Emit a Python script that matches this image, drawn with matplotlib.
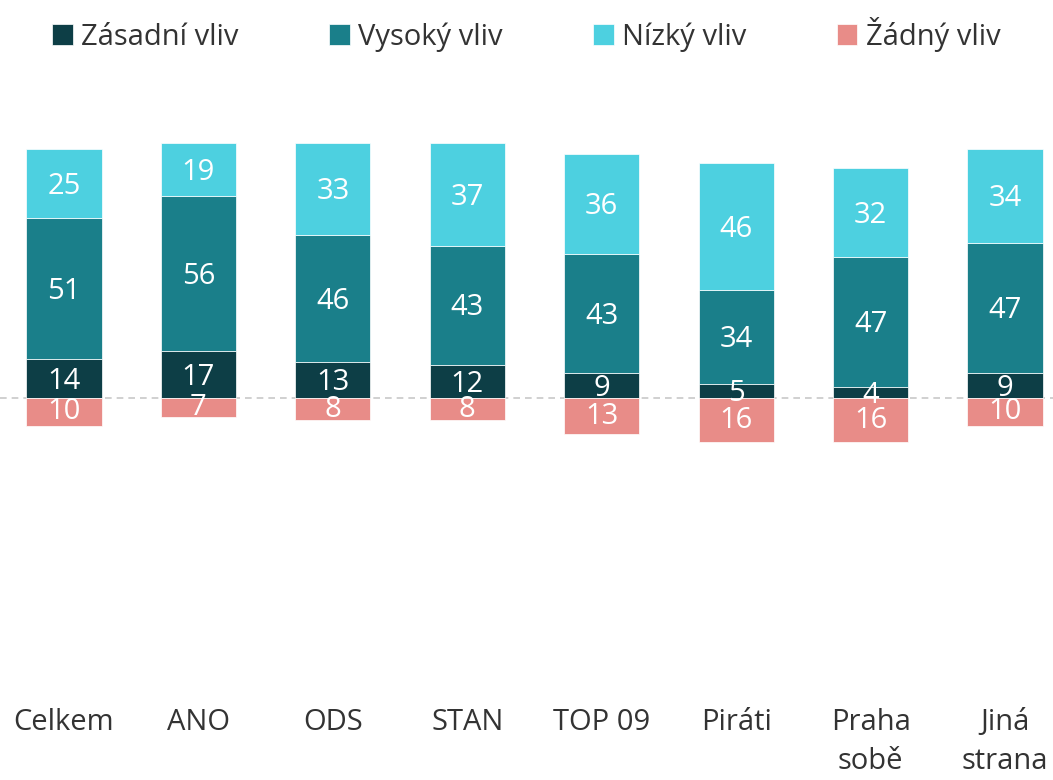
import matplotlib.pyplot as plt
import numpy as np

plt.rcParams["font.family"] = ["Open Sans", "DejaVu Sans"]

categories = ["Celkem", "ANO", "ODS", "STAN", "TOP 09", "Piráti", "Praha\nsobě", "Jiná\nstrana"]
series_names = ["Zásadní vliv", "Vysoký vliv", "Nízký vliv", "Žádný vliv"]
zasadni = [14, 17, 13, 12, 9, 5, 4, 9]
vysoky = [51, 56, 46, 43, 43, 34, 47, 47]
nizky = [25, 19, 33, 37, 36, 46, 32, 34]
zadny = [10, 7, 8, 8, 13, 16, 16, 10]

colors = ["#0d3e46", "#1a7f8a", "#4dd0e0", "#e88c88"]

fig = plt.figure(figsize=(10.53, 7.8), dpi=100)
ax = fig.add_axes([0, 80 / 780, 1, 600 / 780])

x = np.arange(len(categories))
width = 0.56
bottom = np.zeros(len(categories))
for vals, name, col in zip([zasadni, vysoky, nizky], series_names[:3], colors[:3]):
    vals = np.array(vals)
    ax.bar(x, vals, width, bottom=bottom, color=col, label=name,
           edgecolor="#ffffff", linewidth=0.5)
    for xi, b, v in zip(x, bottom, vals):
        ax.text(xi, b + v / 2 - 1, str(v), ha="center", va="center",
                color="white", fontsize=21)
    bottom += vals

neg = -np.array(zadny)
ax.bar(x, neg, width, color=colors[3], label=series_names[3],
       edgecolor="#ffffff", linewidth=0.5)
for xi, v in zip(x, zadny):
    ax.text(xi, -v / 2, str(v), ha="center", va="center", color="white", fontsize=21)

ax.axhline(0, color="#c8c8c8", linestyle=(0, (4, 3)), linewidth=1.2, zorder=0.5)

ax.set_xlim(-64 / 134.43, 7 + 48 / 134.43)
ax.set_ylim(-(700 - 398) / 2.77, (398 - 100) / 2.77)
ax.set_xticks(x)
ax.set_xticklabels(categories, fontsize=21, color="#333333", va="top", linespacing=1.45)
ax.tick_params(axis="x", length=0, pad=6)
ax.set_yticks([])
for s in ax.spines.values():
    s.set_visible(False)

fig.legend(loc="upper center", bbox_to_anchor=(0.5, 1.012), ncol=4, frameon=False,
           fontsize=21, handlelength=0.7, handleheight=0.7, handletextpad=0.3,
           columnspacing=3.1, labelcolor="#333333")

fig.savefig("out.png", dpi=100)
